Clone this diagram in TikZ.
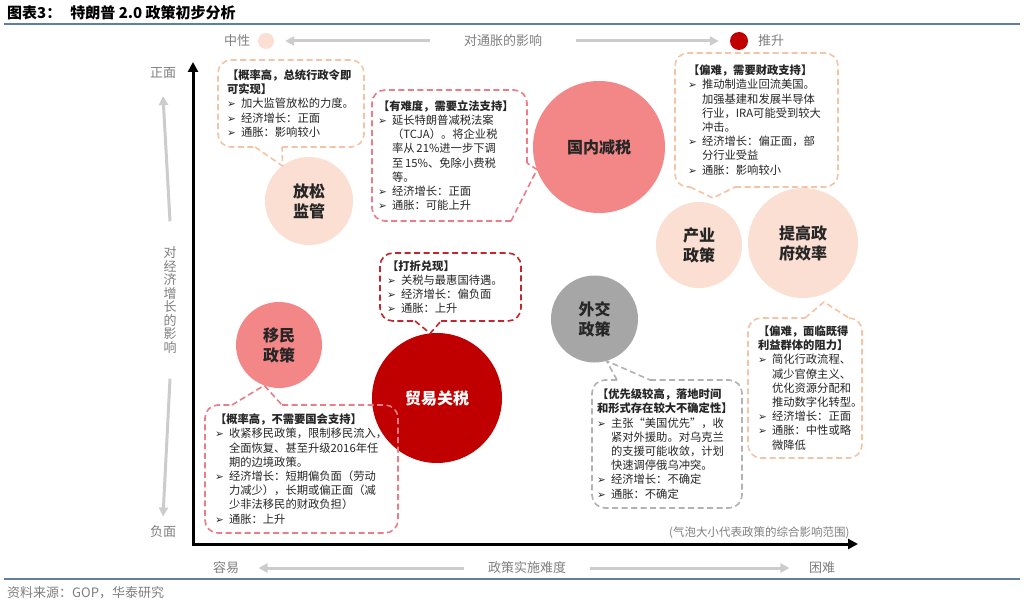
\documentclass[tikz,border=0pt]{standalone}
\usepackage{fontspec}
\setmainfont{Noto Sans CJK SC}
\newfontfamily\dejavu{DejaVu Sans}
\usetikzlibrary{arrows.meta}

\definecolor{peach}{HTML}{FADFD2}
\definecolor{salmon}{HTML}{F38787}
\definecolor{deepred}{HTML}{C00000}
\definecolor{stone}{HTML}{A6A6A6}
\definecolor{peachline}{HTML}{F4C4A6}
\definecolor{pinkline}{HTML}{EC7C87}
\definecolor{redline}{HTML}{C4262E}
\definecolor{greyline}{HTML}{B2B2B2}
\definecolor{hintgrey}{HTML}{7F7F7F}
\definecolor{rulecol}{HTML}{5F7FA0}
\definecolor{inkgrey}{HTML}{262626}

\newcommand\bul{\makebox[14pt][l]{\dejavu\fontsize{10.5}{14}\selectfont ➢}}
\newcommand\ind{\hspace*{14pt}}

\tikzset{
  bubble/.style={circle,inner sep=0pt,outer sep=0pt,minimum size=#1,align=center,
    text=inkgrey,font=\fontsize{16}{20}\selectfont\bfseries},
  note/.style={rectangle,inner ysep=0pt,outer sep=0pt,align=left,text=inkgrey,
    font=\fontsize{11.3}{14.2}\selectfont},
  noteframe/.style={line width=1.6pt,dash pattern=on 6pt off 3.5pt,rounded corners=13pt},
  notetail/.style={line width=1.6pt,dash pattern=on 6pt off 3.5pt,line join=round},
  hint/.style={text=hintgrey,font=\fontsize{13}{13.5}\selectfont},
  guide/.style={->,draw=black!20,line width=3pt},
  axisline/.style={>={Triangle[length=10pt,width=10pt]},<->,line width=3pt},
}

\begin{document}
\begin{tikzpicture}[x=1pt,y=-1pt,>={Triangle[length=9pt,width=9pt]}]
  \fill[white] (0,0) rectangle (1024,609);
  \useasboundingbox (0,0) rectangle (1024,609);

  % title and rules
  \node[anchor=west,inner sep=0pt,font=\fontsize{15}{17}\selectfont\bfseries] (title) at (7,13) {图表3：\hspace{9pt}特朗普 2.0 政策初步分析};
  \draw[rulecol,line width=1.8pt] (4,24) -- (1020,24);
  \draw[rulecol,line width=1.5pt] (4,579) -- (1020,579);
  \node[anchor=west,inner sep=0pt,text=hintgrey,font=\fontsize{13}{14}\selectfont] (src) at (7,593) {资料来源：GOP，华泰研究};

  % inflation legend
  \node[hint] (neu) at (237,41) {中性};
  \node[circle,fill=peach,minimum size=16pt,inner sep=0pt] (neuDot) at (266,41) {};
  \node[hint] (infl) at (503,41) {对通胀的影响};
  \node[circle,fill=deepred,minimum size=18pt,inner sep=0pt] (upDot) at (739,41) {};
  \node[hint] (up) at (771,41) {推升};
  \draw[guide] ([xshift=-30pt]infl.west) -- ([xshift=11pt]neuDot.east);
  \draw[guide] ([xshift=30pt]infl.east) -- ([xshift=-11pt]upDot.west);

  % axes
  \coordinate (yMax) at (193,62);
  \coordinate (O) at (193,544);
  \coordinate (xMax) at (858,544);
  \draw[axisline] (yMax) -- (O) -- (xMax);

  \node[hint] (pos) at (163,73) {正面};
  \node[hint] (neg) at (163,532) {负面};
  \node[hint,align=center] (grow) at (170,300) {对\\经\\济\\增\\长\\的\\影\\响};
  \draw[guide] ([yshift=22pt]grow.north) -- ([yshift=-14pt]pos.south);
  \draw[guide] ([yshift=-22pt]grow.south) -- ([yshift=6pt]neg.north);

  \node[hint] (easy) at (226,568) {容易};
  \node[hint] (diff) at (527,568) {政策实施难度};
  \node[hint] (hard) at (822,568) {困难};
  \draw[guide] ([xshift=-20pt]diff.west) -- ([xshift=16pt]easy.east);
  \draw[guide] ([xshift=20pt]diff.east) -- ([xshift=-16pt]hard.west);
  \node[hint,anchor=east,font=\fontsize{11.5}{13}\selectfont] (memo) at (853,533) {(气泡大小代表政策的综合影响范围)};

  % bubbles
  \node[bubble=88pt,fill=peach] (fs) at (309,201) {放松\\监管};
  \node[bubble=132pt,fill=salmon] (gn) at (599,147) {国内减税};
  \node[bubble=86pt,fill=peach] (cy) at (699,245) {产业\\政策};
  \node[bubble=110pt,fill=peach] (tg) at (803,243) {提高政\\府效率};
  \node[bubble=87pt,fill=stone] (wj) at (594.5,319) {外交\\政策};
  \node[bubble=86pt,fill=salmon] (ym) at (279,345) {移民\\政策};
  \node[bubble=130pt,fill=deepred,text=white] (my) at (437,398) {贸易关税};

  % callouts
  \node[note,text width=128pt,inner xsep=9pt,minimum height=87pt] (c1) at (291,103.5) {%
    \textbf{【概率高，总统行政令即}\\
    \textbf{可实现】}\\
    \bul 加大监管放松的力度。\\
    \bul 经济增长：正面\\
    \bul 通胀：影响较小};
  \draw[noteframe,peachline] (282,147) -- (c1.south east) -- (c1.north east) -- (c1.north west) -- (c1.south west) -- (255,147);
  \draw[notetail,peachline] (255,147) -- (fs.127) -- (282,147);

  \node[note,text width=143pt,inner xsep=6pt,minimum height=131pt] (c2) at (449.5,155.5) {%
    \textbf{【有难度，需要立法支持】}\\
    \bul 延长特朗普减税法案\\
    \ind （TCJA）。将企业税\\
    \ind 率从\,21\%进一步下调\\
    \ind 至\,15\%、免除小费税\\
    \ind 等。\\
    \bul 经济增长：正面\\
    \bul 通胀：可能上升};
  \draw[noteframe,pinkline] (527,163) -- (c2.north east) -- (c2.north west) -- (c2.south west) -- (511,221);
  \draw[notetail,pinkline] (511,221) -- (gn.200) -- (527,163);

  \node[note,text width=137pt,inner xsep=13pt,minimum height=134pt] (c3) at (756.5,120) {%
    \textbf{【偏难，需要财政支持】}\\
    \bul 推动制造业回流美国。\\
    \ind 加强基建和发展半导体\\
    \ind 行业，IRA可能受到较大\\
    \ind 冲击。\\
    \bul 经济增长：偏正面，部\\
    \ind 分行业受益\\
    \bul 通胀：影响较小};
  \coordinate (cyTip) at (713,198);
  \draw[noteframe,peachline] (735,187) -- (c3.south east) -- (c3.north east) -- (c3.north west) -- (c3.south west) -- (690,187);
  \draw[notetail,peachline] (690,187) -- (cyTip) -- (735,187);

  \node[note,text width=127pt,inner xsep=7pt,minimum height=68pt] (c4) at (450.5,287) {%
    \textbf{【打折兑现】}\\
    \bul 关税与最惠国待遇。\\
    \bul 经济增长：偏负面\\
    \bul 通胀：上升};
  \draw[noteframe,redline] (441,321) -- (c4.south east) -- (c4.north east) -- (c4.north west) -- (c4.south west) -- (415,321);
  \draw[notetail,redline] (415,321) -- (my.96) -- (441,321);

  \node[note,text width=173pt,inner xsep=10pt,minimum height=128pt] (c5) at (301.5,469) {%
    \textbf{【概率高，不需要国会支持】}\\
    \bul 收紧移民政策，限制移民流入，\\
    \ind 全面恢复、甚至升级2016年任\\
    \ind 期的边境政策。\\
    \bul 经济增长：短期偏负面（劳动\\
    \ind 力减少），长期或偏正面（减\\
    \ind 少非法移民的财政负担）\\
    \bul 通胀：上升};
  \draw[noteframe,pinkline] (282,405) -- (c5.north east) -- (c5.south east) -- (c5.south west) -- (c5.north west) -- (232,405);
  \draw[notetail,pinkline] (232,405) -- (ym.250) -- (282,405);

  \node[note,text width=140pt,inner xsep=5pt,minimum height=128pt] (c6) at (667,444) {%
    \textbf{【优先级较高，落地时间}\\
    \textbf{和形式存在较大不确定性】}\\
    \bul 主张“美国优先”，收\\
    \ind 紧对外援助。对乌克兰\\
    \ind 的支援可能收敛，计划\\
    \ind 快速调停俄乌冲突。\\
    \bul 经济增长：不确定\\
    \bul 通胀：不确定};
  \draw[noteframe,greyline] (650,380) -- (c6.north east) -- (c6.south east) -- (c6.south west) -- (c6.north west) -- (617,380);
  \draw[notetail,greyline] (617,380) -- (wj.286) -- (650,380);

  \node[note,text width=94pt,inner xsep=10pt,minimum height=140pt] (c7) at (805,388) {%
    \textbf{【偏难，面临既得}\\
    \textbf{利益群体的阻力】}\\
    \bul 简化行政流程、\\
    \ind 减少官僚主义、\\
    \ind 优化资源分配和\\
    \ind 推动数字化转型。\\
    \bul 经济增长：正面\\
    \bul 通胀：中性或略\\
    \ind 微降低};
  \coordinate (tgTip) at (824,302);
  \draw[noteframe,peachline] (849,318) -- (c7.north east) -- (c7.south east) -- (c7.south west) -- (c7.north west) -- (805,318);
  \draw[notetail,peachline] (805,318) -- (tgTip) -- (849,318);
\end{tikzpicture}
\end{document}
